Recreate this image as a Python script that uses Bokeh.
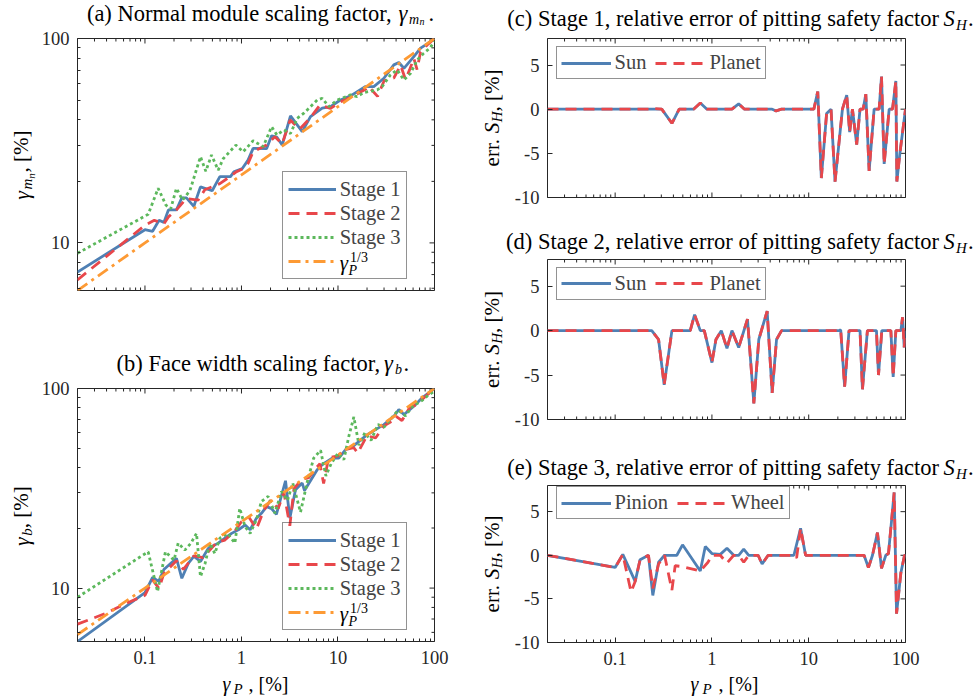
import math
from bokeh.plotting import figure
from bokeh.models import (Range1d, FixedTicker, Label, Legend, LegendItem, BasicTickFormatter)
from bokeh.layouts import row, column
from bokeh.embed import file_html
from bokeh.resources import INLINE

# ---------------- data ----------------
# (a) normal module scaling factor gamma_mn [%] vs gamma_P [%]
A1_X = [0.02, 0.1, 0.12, 0.14, 0.157, 0.175, 0.212, 0.241, 0.269, 0.321, 0.376, 0.497, 0.597, 0.77, 0.834,
        1.02, 1.17, 1.32, 1.82, 2.05, 2.33, 2.64, 3.22, 4.26, 5.19, 6.86, 8.37, 10.6, 13.5, 19.3, 23.5, 29.9,
        37.9, 42.7, 48.2, 61.1, 71.7, 84.0, 100.0]
A1_Y = [7.2, 11.6, 11.4, 12.9, 12.6, 14.5, 14.5, 16.6, 16.6, 15.1, 18.8, 18.0, 21.1, 21.1, 22.3,
        23.1, 25.4, 29.0, 28.9, 33.4, 32.9, 30.1, 41.8, 35.0, 41.5, 45.6, 46.4, 50.0, 52.4, 58.2, 58.2, 63.9,
        74.3, 76.3, 71.5, 81.6, 89.7, 94.2, 100.0]
A2_X = [0.02, 0.1, 0.125, 0.157, 0.175, 0.212, 0.269, 0.356, 0.417, 0.597, 0.76, 0.889, 1.04, 1.17, 1.32,
        1.82, 2.22, 2.64, 3.2, 4.0, 5.19, 6.5, 8.37, 10.6, 13.5, 19.3, 20.7, 25.7, 30.0, 37.9, 44.5, 50.1,
        55.0, 61.1, 66.0, 71.7, 84.0, 100.0]
A2_Y = [6.6, 12.2, 12.9, 12.4, 13.4, 14.5, 16.5, 16.2, 18.2, 19.5, 21.1, 22.3, 23.1, 24.5, 27.9,
        30.1, 33.1, 30.5, 39.9, 36.0, 41.0, 47.3, 45.5, 49.0, 51.5, 56.5, 58.4, 52.1, 62.0, 64.1, 74.0, 63.0,
        70.0, 80.0, 70.5, 86.0, 93.0, 100.0]
A3_X = [0.02, 0.108, 0.137, 0.165, 0.185, 0.212, 0.245, 0.292, 0.376, 0.427, 0.489, 0.574, 0.646, 0.874,
        1.04, 1.32, 1.68, 2.05, 2.33, 2.75, 3.22, 3.78, 4.43, 6.09, 6.86, 8.05, 9.81, 13.5, 15.8, 18.5, 25.5,
        28.7, 35.0, 41.1, 48.2, 56.5, 66.2, 77.6, 89.6, 100.0]
A3_Y = [8.9, 13.8, 18.5, 15.3, 14.7, 18.5, 16.2, 18.0, 26.4, 22.4, 26.9, 22.7, 25.8, 30.1,
        27.9, 31.6, 29.6, 37.0, 33.7, 35.7, 34.3, 40.7, 43.1, 50.0, 51.0, 46.4, 50.0, 53.0, 52.0, 54.4, 56.0,
        58.2, 66.4, 70.2, 62.7, 67.6, 78.6, 84.8, 89.7, 97.0]

# gamma_P^(1/3) reference line (read at decades)
REF_X = [0.02, 0.1, 1.0, 10.0, 100.0]
REF_Y = [5.85, 10.0, 21.5, 46.4, 100.0]

# (b) face width scaling factor gamma_b [%]
B1_X = [0.02, 0.1, 0.12, 0.139, 0.157, 0.212, 0.241, 0.281, 0.321, 0.376, 0.452, 0.574, 0.674, 0.79, 0.93,
        1.09, 1.23, 1.43, 1.61, 1.82, 2.05, 2.3, 2.86, 3.17, 3.63, 4.26, 4.5, 6.09, 6.86, 8.71, 10.2, 12.0,
        14.6, 20.1, 24.5, 29.9, 37.9, 42.7, 48.2, 61.1, 74.6, 100.0]
B1_Y = [5.4, 9.5, 11.3, 10.8, 12.4, 14.1, 11.2, 13.3, 14.4, 13.6, 15.8, 16.8, 17.8, 18.8, 19.6,
        20.7, 19.6, 22.4, 23.7, 25.6, 25.0, 23.4, 34.5, 22.4, 31.1, 33.6, 30.8, 39.2, 41.5, 44.8, 44.8, 49.4,
        51.7, 58.7, 62.2, 65.9, 72.6, 78.4, 74.0, 81.5, 89.8, 100.0]
B2_X = [0.02, 0.04, 0.0644, 0.1, 0.12, 0.14, 0.157, 0.212, 0.25, 0.321, 0.4, 0.55, 0.674, 0.85, 1.0,
        1.2, 1.43, 1.7, 2.0, 2.4, 2.75, 3.17, 3.5, 4.2, 5.0, 5.8, 6.5, 7.1, 8.0, 10.0, 12.0, 14.6, 16.0,
        20.0, 24.5, 30.0, 35.0, 40.0, 46.0, 55.0, 65.0, 80.0, 100.0]
B2_Y = [6.6, 7.5, 8.4, 9.2, 11.0, 9.95, 11.85, 13.7, 12.4, 14.5, 14.2, 16.9, 17.4, 19.3, 21.5,
        22.6, 19.8, 24.5, 27.5, 25.0, 30.2, 20.5, 31.5, 35.0, 35.8, 39.5, 42.0, 33.4, 45.0, 46.0, 49.5, 50.5, 47.5,
        58.0, 56.5, 65.0, 68.0, 72.5, 69.0, 80.0, 83.0, 91.0, 100.0]
B3_X = [0.02, 0.108, 0.135, 0.163, 0.2, 0.221, 0.259, 0.3, 0.342, 0.376, 0.42, 0.47, 0.53, 0.597, 0.72,
        0.854, 0.96, 1.09, 1.23, 1.43, 1.61, 1.89, 2.22, 2.6, 3.0, 3.4, 4.09, 4.8, 5.6, 6.6, 7.5, 8.5, 10.0,
        11.5, 13.0, 14.6, 16.5, 19.0, 22.0, 26.0, 30.0, 35.0, 42.0, 50.0, 60.0, 72.0, 85.0, 100.0]
B3_Y = [9.0, 15.2, 9.6, 15.2, 13.8, 16.8, 15.5, 16.8, 18.8, 11.4, 13.3, 16.8, 14.9, 17.8, 18.8,
        16.8, 25.1, 20.3, 18.8, 22.0, 27.2, 28.8, 23.7, 30.5, 27.5, 33.6, 24.0, 34.0, 44.8, 49.0, 36.5, 42.0, 47.5,
        44.0, 58.0, 72.0, 52.0, 60.0, 55.0, 66.0, 64.0, 70.0, 78.0, 73.0, 82.0, 86.0, 92.0, 97.0]

# (c) stage 1, relative error of S_H [%]
C_X = [0.02, 0.23, 0.239, 0.303, 0.386, 0.459, 0.646, 0.758, 0.889, 1.61, 1.89, 2.17, 4.19, 4.61, 5.24,
       11.3, 12.4, 13.5, 15.3, 17.0, 18.7, 22.3, 24.7, 26.5, 28.3, 31.3, 33.9, 36.5, 38.9, 42.1, 47.4,
       53.4, 56.5, 60.2, 67.8, 73.4, 79.5, 81.4, 87.5, 100.0]
C_SUN = [0, 0, 0, 0, -1.6, 0, 0, 0.7, 0, 0, 0.6, 0, 0, -0.2, 0,
         0, 2.0, -7.8, -0.5, 0, -8.2, 0, 1.6, -2.6, 0, -4.0, 0, 0, 1.7, -7.0, 0,
         0, 3.7, -6.2, 0, 0, 3.2, -8.2, -5.0, 0]
C_PLANET = [0, 0, 0.1, 0, -1.6, 0, 0, 0.7, 0, 0, 0.6, 0, 0, -0.2, 0,
            0, 2.0, -7.8, -0.5, 0, -8.2, 0, 1.6, -2.6, 0, -4.0, 0, 0, 1.7, -7.0, 0,
            0, 3.7, -6.2, 0, 0, 3.2, -8.2, -5.0, 0]

# (d) stage 2
D_X = [0.02, 0.239, 0.281, 0.321, 0.386, 0.597, 0.662, 0.758, 0.834, 1.0, 1.10, 1.25, 1.43, 1.61, 1.89,
       2.33, 2.71, 3.05, 3.72, 4.19, 4.65, 5.24, 20.6, 21.4, 23.5, 26.1, 33.9, 35.9, 40.4, 50.1, 52.6,
       56.9, 70.6, 74.6, 79.5, 89.6, 93.2, 97.0, 100.0]
D_SUN = [0, 0, -1.0, -6.1, 0, 0, 1.8, 0, 0, -3.6, -1.0, 0, -2.0, 0, -1.9,
         1.3, -8.2, -1.0, 2.2, -7.0, -1.0, 0, 0, 0.1, -6.3, 0, 0, -6.6, 0, 0, -5.0,
         0, 0, -5.2, 0, 0, 1.5, -1.9, 0]
D_PLANET = [0, 0, -1.0, -6.1, 0, 0, 1.8, 0, 0, -3.6, -1.0, 0, -2.0, 0, -1.9,
            1.3, -8.2, -1.0, 2.2, -7.0, -1.0, 0, 0, 0.1, -6.3, 0, 0, -6.6, 0, 0, -5.0,
            0, 0, -5.2, 0, 0, 1.5, -1.9, 0]

# (e) stage 3
E_PIN_X = [0.02, 0.1, 0.12, 0.161, 0.181, 0.221, 0.245, 0.281, 0.324, 0.434, 0.497, 0.758, 0.854, 1.0,
           1.22, 1.43, 1.68, 1.89, 2.13, 2.40, 3.0, 3.30, 3.81, 7.03, 8.24, 9.28, 37.3, 41.4, 45.6, 51.3,
           56.5, 62.6, 66.7, 76.4, 80.8, 89.6, 97.7, 100.0]
E_PIN = [0, -1.4, 0.1, -3.0, -0.5, 0, -4.6, -0.8, 0, 0, 1.2, -1.8, 1.0, 0.2,
         0.1, 0.8, 0, 0, 0.7, 0, 0, -1.0, 0, 0, 3.1, 0, 0, -1.4, 0, 2.6,
         -1.5, 0, 0.2, 7.2, -6.7, -2.0, 0, 0]
E_WHL_X = [0.02, 0.1, 0.12, 0.146, 0.161, 0.181, 0.221, 0.245, 0.281, 0.324, 0.386, 0.417, 0.497, 0.758,
           0.91, 1.0, 1.22, 1.43, 1.68, 1.89, 2.13, 2.40, 3.0, 3.30, 3.81, 7.03, 7.5, 8.24, 9.28, 37.3,
           41.4, 45.6, 51.3, 56.5, 62.6, 66.7, 76.4, 80.8, 89.6, 97.7, 100.0]
E_WHL = [0, -1.4, 0.1, -4.2, -3.0, -0.5, 0, -3.8, -1.0, 0, -4.0, -1.2, -1.3, -1.8,
         -0.8, 0, 0, -0.9, 0, 0, -0.8, 0, 0, -1.0, 0, 0, -0.3, 3.1, 0, 0,
         -1.4, 0, 2.6, -1.5, 0, 0.2, 7.2, -6.7, -2.0, 0, 0]

# ticks
X_TICKS = [0.1, 1.0, 10.0, 100.0]
X_TICK_LABELS = ["0.1", "1", "10", "100"]
X_MINOR = [m * 10.0 ** e for e in (-2, -1, 0, 1) for m in range(2, 10)]
LOG_Y_TICKS = [10.0, 100.0]
LOG_Y_LABELS = ["10", "100"]
LOG_Y_MINOR = [6.0, 7.0, 8.0, 9.0] + [m * 10.0 for m in range(2, 10)]
ERR_TICKS = [-10.0, -5.0, 0.0, 5.0]
ERR_LABELS = ["-10", "-5", "0", "5"]

# ---------------- styling ----------------
FONT = "Liberation Serif"
AXC = "#262626"
BLUE, RED, GREEN, ORANGE = "#4f80b4", "#e8474b", "#5cb85c", "#fd9a34"
LW = 2.8
ROT = math.pi / 2
MID = 0.3375   # distance (in em) from the baseline up to the middle of the text box
TS = 22.5      # title font size


def lab(p, x, y, text, size, italic=False, align="left", angle=0.0):
    """Text anchored at its vertical middle (y given as the baseline for horizontal text)."""
    if angle == 0.0:
        y = y + MID * size
    p.add_layout(Label(x=x, y=y, x_units="screen", y_units="screen", text=text,
                       text_font=FONT, text_font_size=f"{size}px",
                       text_font_style="italic" if italic else "normal",
                       text_align=align, text_baseline="middle",
                       angle=angle, text_color="black", level="overlay"))


def vlab(p, baseline_x, center_y, text, size, italic=False):
    """Rotated (bottom-to-top) text, centred on center_y, baseline at baseline_x."""
    lab(p, baseline_x - MID * size, center_y, text, size, italic, align="center", angle=ROT)


def text_fig(w, h):
    p = figure(width=w, height=h, x_range=Range1d(0, w), y_range=Range1d(0, h),
               min_border=0, x_axis_location=None, y_axis_location=None,
               title_location=None, output_backend="svg", toolbar_location=None)
    p.outline_line_color = None
    p.xgrid.visible = False
    p.ygrid.visible = False
    p.background_fill_color = "white"
    p.border_fill_color = "white"
    return p


def style_axis(ax, ticks, minor, labels, standoff):
    ax.ticker = FixedTicker(ticks=ticks, minor_ticks=minor)
    ax.formatter = BasicTickFormatter()
    ax.axis_line_color = None
    ax.major_tick_in = 5
    ax.major_tick_out = 0
    ax.minor_tick_in = 3
    ax.minor_tick_out = 0
    ax.major_tick_line_color = AXC
    ax.minor_tick_line_color = AXC
    ax.major_label_text_font = FONT
    ax.major_label_text_color = AXC
    ax.major_label_overrides = dict(zip(ticks, labels))
    ax.major_label_text_font_size = "18.5px"
    ax.major_label_standoff = standoff


def tick_marks(p, xs, ys, size, angle):
    p.scatter(xs, ys, marker="dash", size=size, angle=angle, line_color=AXC, line_width=1)


def plot_fig(ylog, yr, fw, fh, bl, br, bt, bb, show_x, yticks, yminor, ylabels):
    p = figure(x_axis_type="log", y_axis_type="log" if ylog else "linear",
               x_axis_location="below" if show_x else None,
               x_range=Range1d(0.02, 100), y_range=Range1d(*yr),
               frame_width=fw, frame_height=fh,
               min_border_left=bl, min_border_right=br, min_border_top=bt, min_border_bottom=bb,
               title_location=None, output_backend="svg", toolbar_location=None)
    p.xgrid.visible = False
    p.ygrid.visible = False
    p.outline_line_color = AXC
    p.outline_line_width = 1
    p.background_fill_color = "white"
    p.border_fill_color = "white"
    for ax in p.left:
        style_axis(ax, yticks, yminor, ylabels, 8)
    if show_x:
        for ax in p.below:
            style_axis(ax, X_TICKS, X_MINOR, X_TICK_LABELS, 9)
    # mirrored ticks (top, right, and bottom when that axis carries no labels)
    tick_marks(p, X_TICKS, [yr[1]] * len(X_TICKS), 10, ROT)
    tick_marks(p, X_MINOR, [yr[1]] * len(X_MINOR), 6, ROT)
    if not show_x:
        tick_marks(p, X_TICKS, [yr[0]] * len(X_TICKS), 10, ROT)
        tick_marks(p, X_MINOR, [yr[0]] * len(X_MINOR), 6, ROT)
    tick_marks(p, [100.0] * len(yticks), yticks, 10, 0.0)
    if yminor:
        tick_marks(p, [100.0] * len(yminor), yminor, 6, 0.0)
    return p


def styled_legend(p, renderers, labels, loc, horizontal, opaque):
    lg = Legend(items=[LegendItem(label=l, renderers=[r]) for l, r in zip(labels, renderers)],
                location=loc, orientation="horizontal" if horizontal else "vertical")
    lg.margin = 0
    lg.padding = 4 if horizontal else 5
    lg.spacing = 9 if horizontal else 0
    lg.glyph_width = 50 if horizontal else 48
    lg.glyph_height = 20 if horizontal else 24
    lg.label_height = 20 if horizontal else 24
    lg.label_standoff = 4
    lg.label_text_font = FONT
    lg.label_text_font_size = "20.5px"
    lg.border_line_color = AXC
    lg.border_line_width = 1
    lg.background_fill_color = "white"
    lg.background_fill_alpha = 1.0 if opaque else 0.0
    p.add_layout(lg)


# ---------------- left column (page x 0..478) ----------------
def left_panel(ylo, fh, bb, xs, ys, show_x):
    p = plot_fig(True, (ylo, 100), 357, fh, 40, 44, 11, bb, show_x,
                 LOG_Y_TICKS, LOG_Y_MINOR, LOG_Y_LABELS)
    r1 = p.line(xs[0], ys[0], line_color=BLUE, line_width=LW)
    r2 = p.line(xs[1], ys[1], line_color=RED, line_width=LW, line_dash="11 7")
    r3 = p.line(xs[2], ys[2], line_color=GREEN, line_width=LW, line_dash="3 3")
    r4 = p.line(REF_X, REF_Y, line_color=ORANGE, line_width=LW, line_dash="12 5 3 5")
    lb = 10.8
    styled_legend(p, [r1, r2, r3, r4], ["Stage 1", "Stage 2", "Stage 3", " "], (204.7, lb), False, False)
    lab(p, 262.3, lb + 9.8, "γ", 21, italic=True)
    lab(p, 271.0, lb + 4.8, "P", 14, italic=True)
    lab(p, 272.5, lb + 17.8, "1/3", 14)
    return p


pa = left_panel(5.85, 252, 60, [A1_X, A2_X, A3_X], [A1_Y, A2_Y, A3_Y], False)   # page y 27..350
pb = left_panel(5.4, 253, 31, [B1_X, B2_X, B3_X], [B1_Y, B2_Y, B3_Y], True)     # page y 377..672

ta = text_fig(478, 27)      # page y 0..27
lab(ta, 391, 6.4, "(a) Normal module scaling factor,", TS, align="right")
lab(ta, 398, 6.4, "γ", TS, italic=True)
lab(ta, 408.5, 3.4, "m", 14, italic=True)
lab(ta, 419, 2.4, "n", 10, italic=True)
lab(ta, 428, 6.4, ".", TS)

tb = text_fig(478, 27)      # page y 350..377
lab(tb, 379.5, 6.4, "(b) Face width scaling factor,", TS, align="right")
lab(tb, 383.5, 6.4, "γ", TS, italic=True)
lab(tb, 394.5, 3.4, "b", 14, italic=True)
lab(tb, 403, 6.4, ".", TS)

# y labels: the text figure's frame is aligned with the plot frame beside it
ya = text_fig(37, 323)      # frame aligned with (a): page y 38..290
vlab(ya, 28, 95.1, "γ", 22, italic=True)
vlab(ya, 32, 106.5, "m", 15, italic=True)
vlab(ya, 34, 114.6, "n", 11, italic=True)
vlab(ya, 28, 138.9, ", [%]", 21)

yb = text_fig(37, 295)      # frame aligned with (b): page y 388..641
vlab(yb, 28, 99.8, "γ", 22, italic=True)
vlab(yb, 32, 109.5, "b", 15, italic=True)
vlab(yb, 28, 134.2, ", [%]", 21)

xb = text_fig(478, 28)      # page y 672..700
lab(xb, 222, 10, "γ", 20, italic=True)
lab(xb, 233, 6.5, "P", 15, italic=True)
lab(xb, 248, 10, ", [%]", 20)

left_col = column(ta, row(ya, pa), tb, row(yb, pb), xb)


# ---------------- right column (page x 478..979) ----------------
def right_panel(fh, bb, sx, s1, px, s2, names, show_x, legend_bottom):
    p = plot_fig(False, (-10, 8), 358, fh, 35, 75, 3, bb, show_x, ERR_TICKS, [], ERR_LABELS)
    r1 = p.line(sx, s1, line_color=BLUE, line_width=LW)
    r2 = p.line(px, s2, line_color=RED, line_width=LW, line_dash="11 7")
    styled_legend(p, [r1, r2], names, (8.5, legend_bottom), True, True)
    return p


def right_title(h, base, text):
    t = text_fig(501, h)
    lab(t, 460.5, base, text, TS, align="right")
    lab(t, 465, base, "S", TS, italic=True)
    lab(t, 477.5, base - 4, "H", 15, italic=True)
    lab(t, 489.5, base, ".", TS)
    return t


def right_ylabel(h, fh):
    t = text_fig(33, h)
    start = fh / 2.0 - 49.0
    vlab(t, 21, start + 16.9, "err. ", 21)
    vlab(t, 21, start + 39.1, "S", 21, italic=True)
    vlab(t, 24, start + 50.2, "H", 15, italic=True)
    vlab(t, 21, start + 76.6, ", [%]", 21)
    return t


pc = right_panel(159, 31, C_X, C_SUN, C_X, C_PLANET, ["Sun", "Planet"], False, 118.0)          # y 35..228
pd = right_panel(160, 35, D_X, D_SUN, D_X, D_PLANET, ["Sun", "Planet"], False, 119.5)          # y 256..454
pe = right_panel(157, 30, E_PIN_X, E_PIN, E_WHL_X, E_WHL, ["Pinion", "Wheel"], True, 123.0)    # y 482..672

tc = right_title(35, 9.0, "(c) Stage 1, relative error of pitting safety factor")
td = right_title(28, 7.8, "(d) Stage 2, relative error of pitting safety factor")
te = right_title(28, 7.8, "(e) Stage 3, relative error of pitting safety factor")

yc = right_ylabel(193, 159)
yd = right_ylabel(198, 160)
ye = right_ylabel(190, 157)

xe = text_fig(501, 28)
lab(xe, 212, 10, "γ", 20, italic=True)
lab(xe, 224, 6.5, "P", 15, italic=True)
lab(xe, 240, 10, ", [%]", 20)

right_col = column(tc, row(yc, pc), td, row(yd, pd), te, row(ye, pe), xe)

layout = row(left_col, right_col)
open("out.html", "w").write(file_html(layout, INLINE, title="Scaling factors and pitting safety errors"))
